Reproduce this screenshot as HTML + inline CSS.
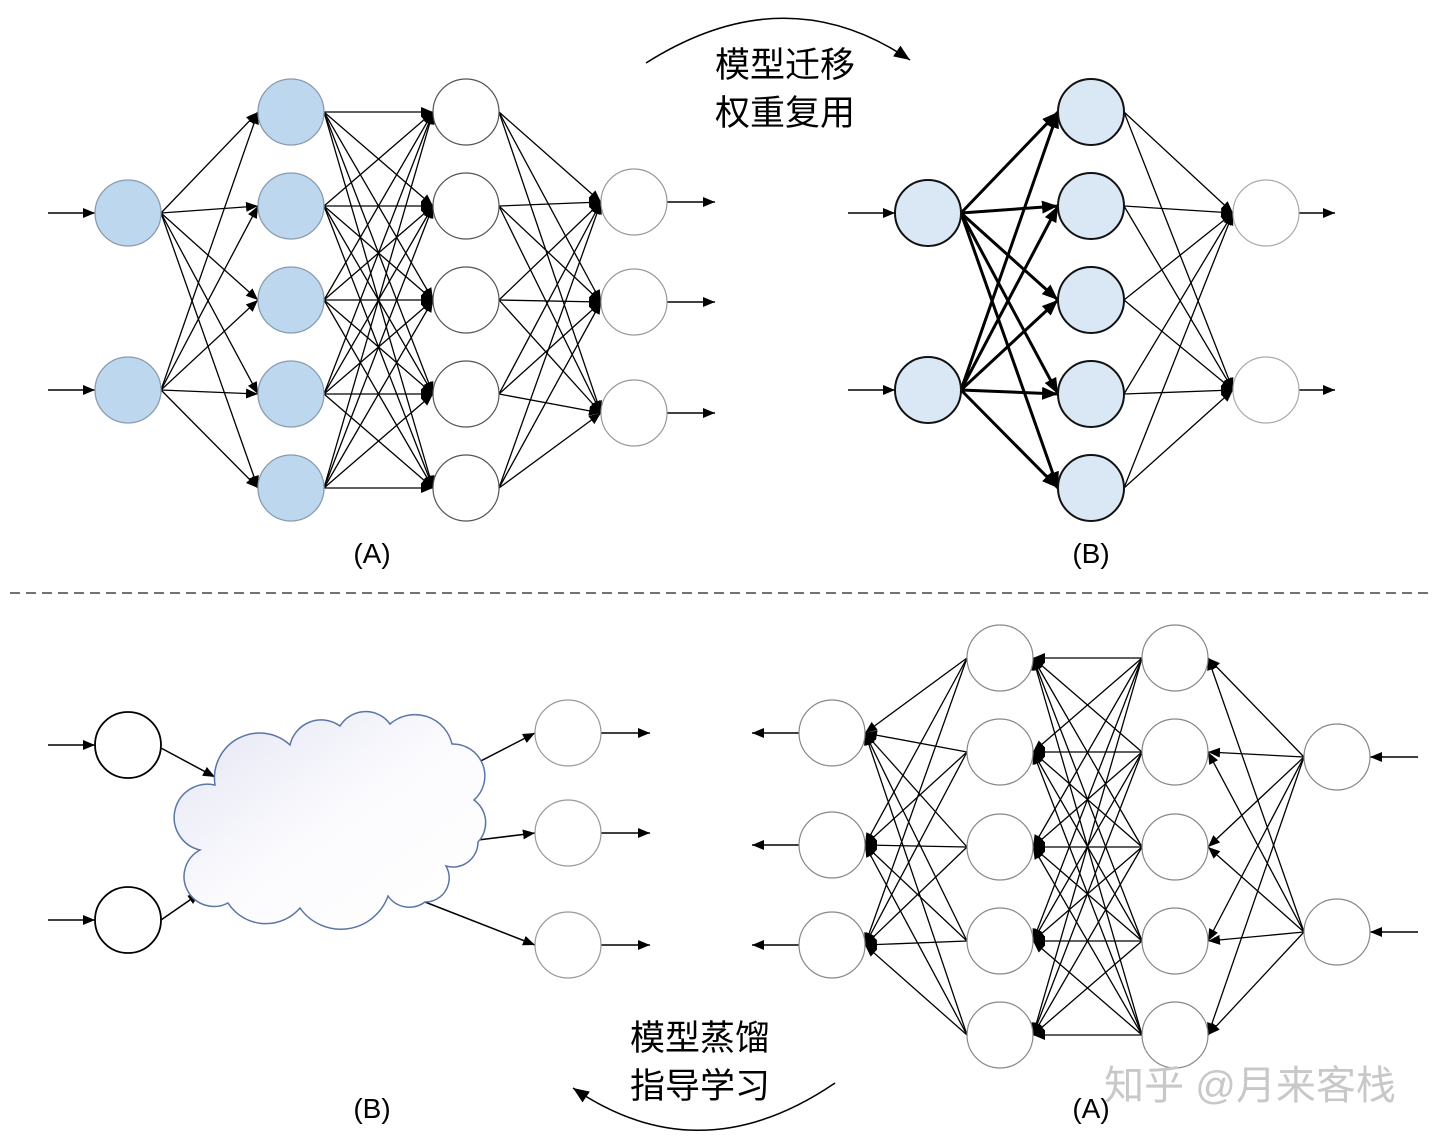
<!DOCTYPE html>
<html><head><meta charset="utf-8"><style>
html,body{margin:0;padding:0;background:#fff}
svg{display:block}
text{font-family:"Liberation Sans","Noto Sans CJK SC",sans-serif}
</style></head><body>
<svg id="s" width="1440" height="1145" viewBox="0 0 1440 1145" xmlns="http://www.w3.org/2000/svg">
<defs>
<marker id="ah" markerUnits="userSpaceOnUse" markerWidth="14" markerHeight="12" refX="12" refY="5" orient="auto"><path d="M0,0 L12,5 L0,10 z" fill="#000"/></marker>
<marker id="ahb" markerUnits="userSpaceOnUse" markerWidth="18" markerHeight="14" refX="16" refY="6.5" orient="auto"><path d="M0,0 L16,6.5 L0,13 z" fill="#000"/></marker>
<linearGradient id="cg" x1="0" y1="0" x2="1" y2="1"><stop offset="0" stop-color="#e2e4f2"/><stop offset="0.5" stop-color="#fbfbfe"/><stop offset="1" stop-color="#ffffff"/></linearGradient>
</defs>
<g id="edges"></g>
<g id="nodes"></g>
<path d="M215,785 A45,45 0 0 1 290,745 A32,32 0 0 1 340,726 A30,30 0 0 1 390,724 A38,38 0 0 1 452,744 A32,32 0 0 1 474,800 A28,28 0 0 1 478,842 A25,25 0 0 1 446,866 A24,24 0 0 1 425,902 A26,26 0 0 1 388,896 A50,50 0 0 1 300,908 A45,45 0 0 1 228,903 A22,22 0 0 1 200,850 A24,24 0 0 1 215,785 Z" fill="url(#cg)" stroke="#5b75a5" stroke-width="1.5"/>
<line x1="10" y1="593" x2="1430" y2="593" stroke="#444" stroke-width="1.5" stroke-dasharray="10,6"/>
<path d="M646,63 Q785,-25 910,60" fill="none" stroke="#000" stroke-width="1.5" marker-end="url(#ahb)"/>
<path d="M835,1083 Q700,1175 573,1088" fill="none" stroke="#000" stroke-width="1.5" marker-end="url(#ahb)"/>
<text x="785" y="77" font-size="35" text-anchor="middle">模型迁移</text>
<text x="785" y="125" font-size="35" text-anchor="middle">权重复用</text>
<text x="700" y="1050" font-size="35" text-anchor="middle">模型蒸馏</text>
<text x="700" y="1098" font-size="35" text-anchor="middle">指导学习</text>
<text x="372" y="563" font-size="28" text-anchor="middle">(A)</text>
<text x="1091" y="563" font-size="28" text-anchor="middle">(B)</text>
<text x="372" y="1118" font-size="28" text-anchor="middle">(B)</text>
<text x="1091" y="1118" font-size="28" text-anchor="middle">(A)</text>
<text x="1250" y="1099" font-size="40" text-anchor="middle" fill="#c8c8c8">知乎 @月来客栈</text>
</svg>
<script>
var NS="http://www.w3.org/2000/svg",E=document.getElementById('edges'),N=document.getElementById('nodes');
function el(p,t,a){var e=document.createElementNS(NS,t);for(var k in a)e.setAttribute(k,a[k]);p.appendChild(e);return e;}
var R=33;
function edge(a,b,w,m){var s=b[0]>a[0]?1:-1;
el(E,'line',{x1:a[0]+s*R,y1:a[1],x2:b[0]-s*R,y2:b[1],stroke:'#000','stroke-width':w,'marker-end':'url(#'+m+')'});}
function arr(x1,y1,x2,y2){el(E,'line',{x1:x1,y1:y1,x2:x2,y2:y2,stroke:'#000','stroke-width':1.5,'marker-end':'url(#ah)'});}
function node(c,fill,st,sw){el(N,'circle',{cx:c[0],cy:c[1],r:R,fill:fill,stroke:st,'stroke-width':sw});}
function layer(x,ys){return ys.map(function(y){return [x,y]});}
function full(A,B,w,m){A.forEach(function(a){B.forEach(function(b){edge(a,b,w,m)})})}
var Y5=[112,206,300,394,488];
var a1=layer(128,[213,390]),a2=layer(291,Y5),a3=layer(466,Y5),a4=layer(634,[202,302,413]);
full(a1,a2,1.3,'ah');full(a2,a3,1.3,'ah');full(a3,a4,1.3,'ah');
a1.forEach(function(c){arr(48,c[1],95,c[1])});a4.forEach(function(c){arr(667,c[1],715,c[1])});
a1.concat(a2).forEach(function(c){node(c,'#bdd7ee','#8a9bb0',1.3)});a3.forEach(function(c){node(c,'#fff','#555',1.2)});a4.forEach(function(c){node(c,'#fff','#999',1.2)});
var b1=layer(928,[213,390]),b2=layer(1091,Y5),b3=layer(1266,[213,390]);
full(b1,b2,3,'ahb');full(b2,b3,1.3,'ah');
b1.forEach(function(c){arr(848,c[1],895,c[1])});b3.forEach(function(c){arr(1299,c[1],1335,c[1])});
b1.concat(b2).forEach(function(c){node(c,'#dae8f6','#111',2)});b3.forEach(function(c){node(c,'#fff','#aaa',1.2)});
var c1=layer(128,[745,920]),c3=layer(568,[733,833,945]);
c1.forEach(function(c){arr(48,c[1],95,c[1]);node(c,'#fff','#000',1.8)});
arr(161,748,215,777);arr(161,920,200,893);
arr(473,765,535,733);arr(478,840,535,833);arr(425,902,535,945);
c3.forEach(function(c){arr(601,c[1],650,c[1]);node(c,'#fff','#999',1.2)});
var YB=[658,752,847,941,1035];
var d0=layer(832,[733,845,945]),d1=layer(1000,YB),d2=layer(1175,YB),d3=layer(1337,[757,932]);
full(d1,d0,1.3,'ah');full(d2,d1,1.3,'ah');full(d3,d2,1.3,'ah');
d0.forEach(function(c){arr(799,c[1],752,c[1])});d3.forEach(function(c){arr(1418,c[1],1370,c[1])});
d0.concat(d1,d2,d3).forEach(function(c){node(c,'#fff','#888',1.2)});
</script>
</body></html>
